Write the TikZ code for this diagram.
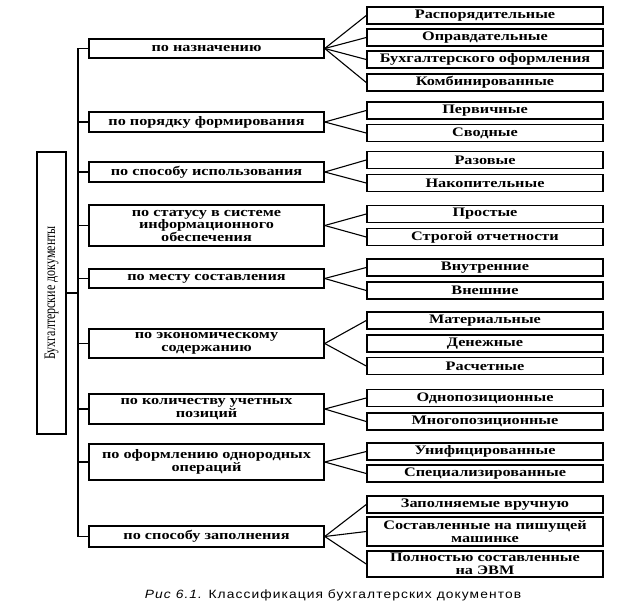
\documentclass[tikz,border=0pt]{standalone}
\usepackage{fontspec}
\setmainfont{Liberation Serif}
\newfontfamily\boxfont[FakeStretch=1.25]{Liberation Serif}
\newfontfamily\capfont[FakeStretch=1.15,LetterSpace=9]{Liberation Sans}
\newfontfamily\rootfont[FakeStretch=0.75]{Liberation Serif}
\usetikzlibrary{calc}
\tikzstyle{cat}=[shape=rectangle, draw, line width=1.5pt, minimum width=235pt, minimum height=19pt, inner sep=0pt, align=center, font=\boxfont\bfseries\fontsize{13}{12.5}\selectfont]
\tikzstyle{sub}=[cat, minimum width=236pt, minimum height=17pt]
\tikzstyle{rootbox}=[shape=rectangle, draw, line width=1.5pt, rotate=90, minimum width=282pt, minimum height=29pt, inner sep=0pt, font=\rootfont\fontsize{16}{16}\selectfont]
\tikzstyle{ln}=[line width=1.1pt]

\begin{document}
\begin{tikzpicture}[x=1pt,y=-1pt]
\useasboundingbox (0,0) rectangle (640,608);

\node (root) [rootbox] at (51.5,293) {Бухгалтерские документы};
\coordinate (tr) at (78,0);

\node (c1) [cat] at (206.5,48.5) {по назначению};
\node (c2) [cat,minimum height=20pt] at (206.5,122) {по порядку формирования};
\node (c3) [cat,minimum height=20pt] at (206.5,172) {по способу использования};
\node (c4) [cat,minimum height=41pt] at (206.5,225.5) {по статусу в системе\\информационного\\обеспечения};
\node (c5) [cat] at (206.5,278.5) {по месту составления};
\node (c6) [cat,minimum height=29pt] at (206.5,343.5) {по экономическому\\содержанию};
\node (c7) [cat,minimum height=30pt] at (206.5,409) {по количеству учетных\\позиций};
\node (c8) [cat,minimum height=36pt] at (206.5,462) {по оформлению однородных\\операций};
\node (c9) [cat,minimum height=21pt] at (206.5,536.5) {по способу заполнения};

\node (s11) [sub] at (485,15.5) {Распорядительные};
\node (s12) [sub] at (485,37.5) {Оправдательные};
\node (s13) [sub] at (485,59.5) {Бухгалтерского оформления};
\node (s14) [sub] at (485,82.5) {Комбинированные};
\node (s21) [sub] at (485,110.5) {Первичные};
\node (s22) [sub] at (485,133) {Сводные};
\node (s31) [sub] at (485,160) {Разовые};
\node (s32) [sub] at (485,183) {Накопительные};
\node (s41) [sub] at (485,214) {Простые};
\node (s42) [sub] at (485,237) {Строгой отчетности};
\node (s51) [sub] at (485,267.5) {Внутренние};
\node (s52) [sub] at (485,290.5) {Внешние};
\node (s61) [sub] at (485,320.5) {Материальные};
\node (s62) [sub] at (485,343.5) {Денежные};
\node (s63) [sub] at (485,366) {Расчетные};
\node (s71) [sub] at (485,398) {Однопозиционные};
\node (s72) [sub] at (485,421.5) {Многопозиционные};
\node (s81) [sub] at (485,451.5) {Унифицированные};
\node (s82) [sub] at (485,473.5) {Специализированные};
\node (s91) [sub] at (485,504.5) {Заполняемые вручную};
\node (s92) [sub,minimum height=29pt] at (485,531.5) {Составленные на пишущей\\машинке};
\node (s93) [sub,minimum height=26pt] at (485,564) {Полностью составленные\\на ЭВМ};

\node (cap) at (333,595) {\capfont\fontsize{12}{12}\selectfont\itshape Рис 6.1.\upshape{} Классификация бухгалтерских документов};

% trunk
\draw[ln] (root.south) -- (root.south -| tr);
\draw[ln] (c1.west) -| (tr |- c9.west) -- (c9.west);
\draw[ln] (c2.west) -- (c2.west -| tr);
\draw[ln] (c3.west) -- (c3.west -| tr);
\draw[ln] (c4.west) -- (c4.west -| tr);
\draw[ln] (c5.west) -- (c5.west -| tr);
\draw[ln] (c6.west) -- (c6.west -| tr);
\draw[ln] (c7.west) -- (c7.west -| tr);
\draw[ln] (c8.west) -- (c8.west -| tr);

% fans (Денежные has none)
\draw[ln] (c1.east) -- (s11.west);
\draw[ln] (c1.east) -- (s12.west);
\draw[ln] (c1.east) -- (s13.west);
\draw[ln] (c1.east) -- (s14.west);
\draw[ln] (c2.east) -- (s21.west);
\draw[ln] (c2.east) -- (s22.west);
\draw[ln] (c3.east) -- (s31.west);
\draw[ln] (c3.east) -- (s32.west);
\draw[ln] (c4.east) -- (s41.west);
\draw[ln] (c4.east) -- (s42.west);
\draw[ln] (c5.east) -- (s51.west);
\draw[ln] (c5.east) -- (s52.west);
\draw[ln] (c6.east) -- (s61.west);
\draw[ln] (c6.east) -- (s63.west);
\draw[ln] (c7.east) -- (s71.west);
\draw[ln] (c7.east) -- (s72.west);
\draw[ln] (c8.east) -- (s81.west);
\draw[ln] (c8.east) -- (s82.west);
\draw[ln] (c9.east) -- (s91.west);
\draw[ln] (c9.east) -- (s92.west);
\draw[ln] (c9.east) -- (s93.west);

\end{tikzpicture}
\end{document}
